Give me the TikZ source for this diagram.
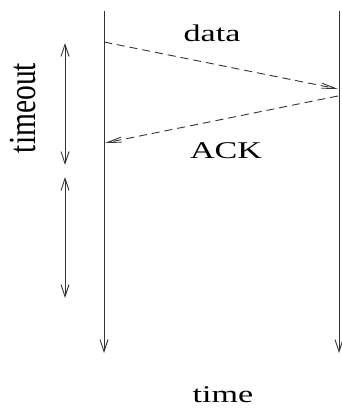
\documentclass[tikz,border=0pt]{standalone}
\usepackage{fontspec}
\setmainfont{Liberation Serif}
\usepackage{graphicx}
\usetikzlibrary{arrows.meta}
\tikzset{
  wire/.style={draw=black!80, line width=0.9pt},
  tip/.style={-{Straight Barb[length=12pt,width=8pt]}},
  bothtips/.style={{Straight Barb[length=12pt,width=8pt]}-{Straight Barb[length=12pt,width=8pt]}},
  msg/.style={wire, dash pattern=on 8pt off 5pt, -{Straight Barb[length=14pt,width=5pt]}},
  lbl/.style={inner sep=0pt, font=\fontsize{24}{28}\selectfont},
}
\newcommand{\wide}[1]{\scalebox{1.42}[1]{#1}}
\begin{document}
\begin{tikzpicture}[x=1pt,y=-1pt]
  \useasboundingbox (0,0) rectangle (342,409);
  % time lines of sender and receiver
  \coordinate (s0) at (104,11);
  \coordinate (s1) at (104,353);
  \coordinate (r0) at (339,11);
  \coordinate (r1) at (339,353);
  \draw[wire, tip] (s0) -- (s1);
  \draw[wire, tip] (r0) -- (r1);
  % message exchange
  \coordinate (ds) at (104,42);
  \coordinate (de) at (338,89);
  \coordinate (as) at (338,96);
  \coordinate (ae) at (105,143);
  \draw[msg] (ds) -- (de);
  \draw[msg] (as) -- (ae);
  % timeout intervals
  \coordinate (t0) at (65,43);
  \coordinate (t1) at (65,165);
  \coordinate (t2) at (65,177);
  \coordinate (t3) at (65,298);
  \draw[wire, bothtips] (t0) -- (t1);
  \draw[wire, bothtips] (t2) -- (t3);
  % labels
  \node[lbl, anchor=base] (data) at (212,42) {\wide{data}};
  \node[lbl, anchor=base] (ack) at (226,158) {\wide{ACK}};
  \node[lbl, anchor=base] (time) at (223,402) {\wide{time}};
  \node[inner sep=0pt, anchor=east] (timeout) at (36,108)
    {\scalebox{1.3}[1]{\rotatebox{90}{\fontsize{29.5}{34}\selectfont timeout}}};
\end{tikzpicture}
\end{document}
